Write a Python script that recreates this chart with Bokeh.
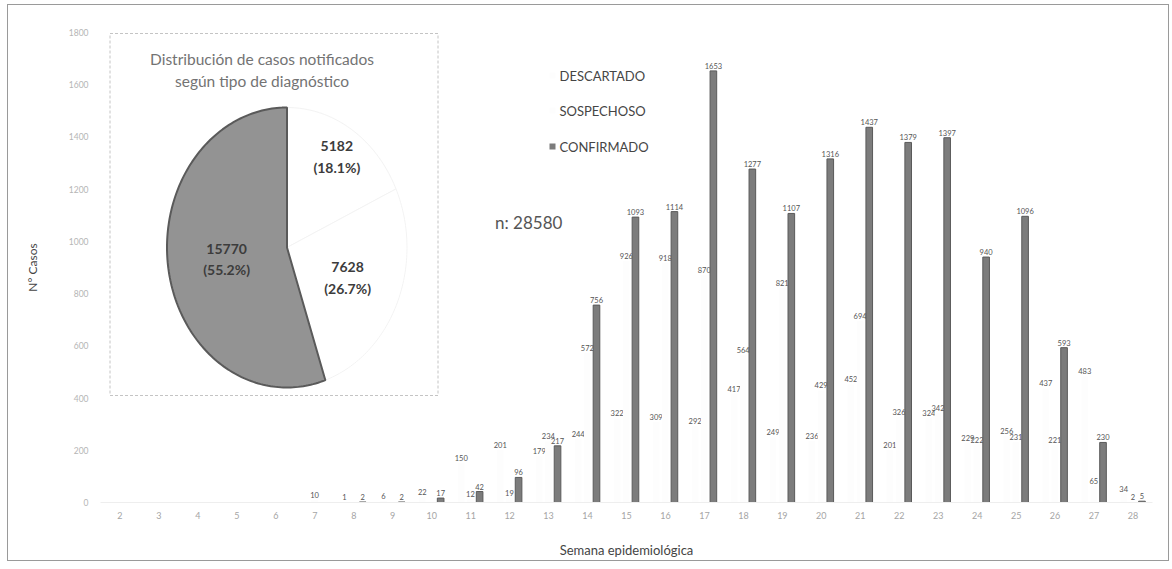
import math
from bokeh.plotting import figure
from bokeh.models import Range1d, FixedTicker, ColumnDataSource
from bokeh.transform import dodge
from bokeh.core.properties import value
from bokeh.embed import file_html
from bokeh.resources import INLINE

# ---------------- data ----------------
weeks = list(range(2, 29))
descartado = [0, 0, 0, 0, 0, 0, 1, 6, 22, 150, 201, 179, 244, 322, 309, 292,
              417, 249, 236, 452, 201, 324, 229, 256, 437, 483, 34]
sospechoso = [0, 0, 0, 0, 0, 10, 0, 0, 0, 12, 19, 234, 572, 926, 918, 870,
              564, 821, 429, 694, 326, 342, 222, 231, 221, 65, 2]
confirmado = [0, 0, 0, 0, 0, 0, 2, 2, 17, 42, 96, 217, 756, 1093, 1114, 1653,
              1277, 1107, 1316, 1437, 1379, 1397, 940, 1096, 593, 230, 5]
series_names = ["DESCARTADO", "SOSPECHOSO", "CONFIRMADO"]
y_ticks = list(range(0, 1801, 200))

pie_values = [5182, 7628, 15770]          # DESCARTADO, SOSPECHOSO, CONFIRMADO
pie_title = ["Distribución de casos notificados", "según tipo de diagnóstico"]

# ---------------- style ----------------
FONT = "Lato"
series_fill = ["#fdfdfd", "#fdfdfd", "#7c7c7c"]
series_line = [None, None, "#5a5a5a"]
pie_fill = ["#ffffff", "#ffffff", "#939393"]
pie_line = ["#f3f3f3", "#f3f3f3", "#5a5a5a"]
offsets = [-0.24, -0.005, 0.23]
bar_w = 0.17
W_FRAME, H_FRAME = 1052, 470

p = figure(frame_width=W_FRAME, frame_height=H_FRAME,
           x_range=Range1d(1.5, 28.5), y_range=Range1d(0, 1800),
           output_backend="svg", toolbar_location=None,
           min_border_left=92, min_border_right=16,
           min_border_top=27, min_border_bottom=56,
           background_fill_color="white", border_fill_color="white")
p.margin = (5, 0, 0, 8)
p.styles = {"box-shadow": "0 0 0 1px #9a9a9a"}
p.outline_line_color = None
p.grid.visible = False
p.extra_x_ranges = {"px": Range1d(0, W_FRAME)}
p.extra_y_ranges = {"px": Range1d(0, H_FRAME)}

# ---------------- axes ----------------
p.xaxis.ticker = FixedTicker(ticks=weeks)
p.xaxis.major_label_text_font = FONT
p.xaxis.major_label_text_font_size = "9px"
p.xaxis.major_label_text_color = "#a5a5a5"
p.xaxis.major_label_standoff = 9
p.xaxis.major_tick_out = 0
p.xaxis.major_tick_in = 0
p.xaxis.major_tick_line_color = None
p.xaxis.minor_tick_line_color = None
p.xaxis.axis_line_color = "#eeeeee"
p.xaxis.axis_label = "Semana epidemiológica"
p.xaxis.axis_label_text_font = FONT
p.xaxis.axis_label_text_font_style = "normal"
p.xaxis.axis_label_text_font_size = "13px"
p.xaxis.axis_label_text_color = "#444444"
p.xaxis.axis_label_standoff = 20

p.yaxis.ticker = FixedTicker(ticks=y_ticks)
p.yaxis.major_label_text_font = FONT
p.yaxis.major_label_text_font_size = "8.5px"
p.yaxis.major_label_text_color = "#b5b5b5"
p.yaxis.major_label_standoff = 12
p.yaxis.major_tick_out = 0
p.yaxis.major_tick_in = 0
p.yaxis.major_tick_line_color = None
p.yaxis.minor_tick_line_color = None
p.yaxis.axis_line_color = None
p.yaxis.axis_label = "N° Casos"
p.yaxis.axis_label_text_font = FONT
p.yaxis.axis_label_text_font_style = "normal"
p.yaxis.axis_label_text_font_size = "12px"
p.yaxis.axis_label_text_color = "#444444"
p.yaxis.axis_label_standoff = 26

# ---------------- bars + labels ----------------
for name, vals, off, fc, lc in zip(series_names, [descartado, sospechoso, confirmado],
                                   offsets, series_fill, series_line):
    src = ColumnDataSource(dict(week=weeks, val=vals,
                                lbl=[str(v) if v > 0 else "" for v in vals]))
    p.vbar(x=dodge("week", off), top="val", bottom=0, width=bar_w, source=src,
           fill_color=fc, line_color=lc, line_width=1)
    p.text(x=dodge("week", off), y="val", text="lbl", source=src,
           text_align="center", text_baseline="bottom", y_offset=-2,
           text_font=value(FONT), text_font_size="7.5px", text_color="#555555")

# ---------------- inset pie ----------------
p.quad(left=9.5, right=337.5, bottom=107, top=469, x_range_name="px", y_range_name="px",
       fill_color="white", line_color="#c4c4c4", line_dash="3 2", line_width=1)

p.text(x=[161.5, 161.5], y=[444, 422], text=pie_title, x_range_name="px", y_range_name="px",
       text_align="center", text_baseline="middle", text_font=value(FONT),
       text_font_size="15.5px", text_color="#737373")

cx, cy, rx, ry = 186.5, 255.0, 120.0, 140.0
label_r = [0.77, 0.55, 0.51]
total = sum(pie_values)
start = 0.0
for v, fc, lc, lr in zip(pie_values, pie_fill, pie_line, label_r):
    frac = v / total
    a0, a1 = start * 2 * math.pi, (start + frac) * 2 * math.pi
    n = max(6, int(frac * 300))
    ts = [a0 + (a1 - a0) * i / n for i in range(n + 1)]
    xs = [cx] + [cx + rx * math.sin(t) for t in ts] + [cx]
    ys = [cy] + [cy + ry * math.cos(t) for t in ts] + [cy]
    p.patch(xs, ys, x_range_name="px", y_range_name="px",
            fill_color=fc, line_color=lc, line_width=2 if fc != "#ffffff" else 1)
    mid = (a0 + a1) / 2
    lx = cx + lr * rx * math.sin(mid)
    ly = cy + lr * ry * math.cos(mid)
    p.text(x=[lx, lx], y=[ly + 10.5, ly - 10.5],
           text=[str(v), "({:.1f}%)".format(frac * 100)],
           x_range_name="px", y_range_name="px",
           text_align="center", text_baseline="middle", text_font=value(FONT),
           text_font_size="14px", text_font_style="bold", text_color="#3c3c3c")
    start += frac

# ---------------- legend + n ----------------
leg_y = [427, 392, 356]
p.rect(x=[452] * 3, y=leg_y, width=6, height=6, x_range_name="px", y_range_name="px",
       fill_color=series_fill, line_color=None)
p.text(x=[459] * 3, y=leg_y, text=series_names, x_range_name="px", y_range_name="px",
       text_align="left", text_baseline="middle", text_font=value(FONT),
       text_font_size="13px", text_color="#454545")

p.text(x=[394.5], y=[280], text=["n: " + str(total)], x_range_name="px", y_range_name="px",
       text_align="left", text_baseline="middle", text_font=value(FONT),
       text_font_size="17px", text_color="#555555")

open("out.html", "w").write(file_html(p, INLINE))
